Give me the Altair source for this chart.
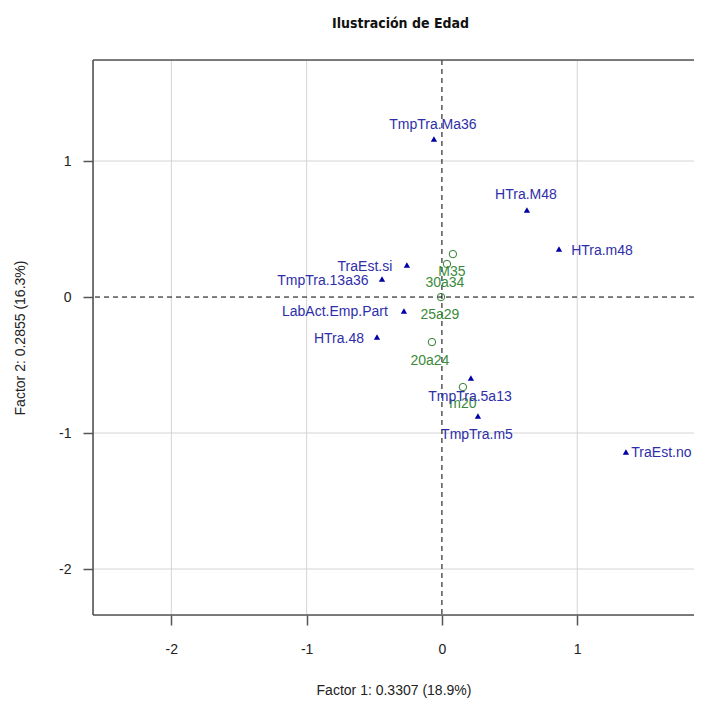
import altair as alt
import pandas as pd

# Category points (Factor 1, Factor 2)
var_names = ["TmpTra.Ma36", "HTra.M48", "HTra.m48", "TraEst.no", "TraEst.si",
             "TmpTra.13a36", "LabAct.Emp.Part", "HTra.48", "TmpTra.5a13", "TmpTra.m5"]
var_x = [-0.059, 0.628, 0.865, 1.360, -0.259, -0.443, -0.281, -0.480, 0.214, 0.266]
var_y = [1.162, 0.640, 0.353, -1.140, 0.235, 0.132, -0.103, -0.294, -0.596, -0.875]
# label anchor positions (repelled labels)
var_lx = [-0.067, 0.621, 1.183, 1.622, -0.569, -0.880, -0.791, -0.761, 0.207, 0.259]
var_ly = [1.265, 0.750, 0.338, -1.147, 0.221, 0.118, -0.110, -0.309, -0.735, -1.015]

age_names = ["M35", "30a34", "25a29", "20a24", "m20"]
age_x = [0.081, 0.037, -0.007, -0.074, 0.155]
age_y = [0.316, 0.243, 0.000, -0.331, -0.662]
age_lx = [0.074, 0.022, -0.015, -0.089, 0.155]
age_ly = [0.184, 0.103, -0.132, -0.471, -0.787]

x_ticks = [-2, -1, 0, 1]
y_ticks = [1, 0, -1, -2]
x_grid = [-2, -1, 1]
y_grid = [1, -1, -2]

X_DOMAIN = [-2.579, 1.863]
Y_DOMAIN = [-2.338, 1.743]

W, H = 601, 555
FONT = "Liberation Sans"

vars_df = pd.DataFrame({"name": var_names, "x": var_x, "y": var_y, "lx": var_lx, "ly": var_ly})
age_df = pd.DataFrame({"name": age_names, "x": age_x, "y": age_y, "lx": age_lx, "ly": age_ly})

xs = alt.Scale(domain=X_DOMAIN, nice=False, zero=False)
ys = alt.Scale(domain=Y_DOMAIN, nice=False, zero=False)

x_axis = alt.Axis(values=x_ticks, grid=False, domain=False, tickSize=10, tickColor="#555",
                  tickWidth=1.5, labelFontSize=14, labelFont=FONT, labelColor="#222",
                  labelPadding=17, labelExpr="'' + datum.value",
                  title="Factor 1: 0.3307 (18.9%)", titleFont=FONT,
                  titleFontSize=14, titleFontWeight="normal", titleColor="#222",
                  titlePadding=27)
y_axis = alt.Axis(values=y_ticks, grid=False, domain=False, tickSize=10, tickColor="#555",
                  tickWidth=1.5, labelFontSize=14, labelFont=FONT, labelColor="#222",
                  labelPadding=12, labelExpr="'' + datum.value",
                  title="Factor 2: 0.2855 (16.3%)", titleFont=FONT,
                  titleFontSize=14, titleFontWeight="normal", titleColor="#222",
                  titlePadding=31)

base_axes = alt.Chart(pd.DataFrame({"x": [0.0], "y": [0.0]})).mark_point(opacity=0).encode(
    x=alt.X("x:Q", scale=xs, axis=x_axis),
    y=alt.Y("y:Q", scale=ys, axis=y_axis),
)

vgrid = alt.Chart(pd.DataFrame({"g": x_grid})).mark_rule(color="#d4d4d4", strokeWidth=1).encode(
    x=alt.X("g:Q", scale=xs))
hgrid = alt.Chart(pd.DataFrame({"g": y_grid})).mark_rule(color="#d4d4d4", strokeWidth=1).encode(
    y=alt.Y("g:Q", scale=ys))

vzero = alt.Chart(pd.DataFrame({"g": [0]})).mark_rule(color="black", strokeWidth=1,
                                                       strokeDash=[5, 4]).encode(
    x=alt.X("g:Q", scale=xs))
hzero = alt.Chart(pd.DataFrame({"g": [0]})).mark_rule(color="black", strokeWidth=1,
                                                       strokeDash=[5, 4]).encode(
    y=alt.Y("g:Q", scale=ys))

# plot frame: left, top, bottom (right side runs past the picture in the reference)
frame_style = dict(color="#555", strokeWidth=1.6)
frame_left = alt.Chart().mark_rule(**frame_style).encode(
    x=alt.value(0), y=alt.value(0), y2=alt.value(H))
frame_top = alt.Chart().mark_rule(**frame_style).encode(
    x=alt.value(0), x2=alt.value(W), y=alt.value(0))
frame_bottom = alt.Chart().mark_rule(**frame_style).encode(
    x=alt.value(0), x2=alt.value(W), y=alt.value(H))

tri = alt.Chart(vars_df).mark_point(shape="triangle-up", filled=True, color="#0000A8",
                                    size=40, opacity=1, clip=True).encode(
    x=alt.X("x:Q", scale=xs), y=alt.Y("y:Q", scale=ys))
tri_lab = alt.Chart(vars_df).mark_text(font=FONT, fontSize=14, color="#2E2EAA", align="center",
                                       baseline="middle").encode(
    x=alt.X("lx:Q", scale=xs), y=alt.Y("ly:Q", scale=ys), text="name:N")

circ = alt.Chart(age_df).mark_point(shape="circle", filled=False, color="#2E7D2E",
                                    size=55, strokeWidth=1, opacity=1, clip=True).encode(
    x=alt.X("x:Q", scale=xs), y=alt.Y("y:Q", scale=ys))
circ_lab = alt.Chart(age_df).mark_text(font=FONT, fontSize=14, color="#3A8A3A", align="center",
                                       baseline="middle").encode(
    x=alt.X("lx:Q", scale=xs), y=alt.Y("ly:Q", scale=ys), text="name:N")

chart = alt.layer(base_axes, vgrid, hgrid, vzero, hzero, frame_left, frame_top, frame_bottom,
                  circ, tri, circ_lab, tri_lab).properties(
    width=W, height=H,
    title=alt.TitleParams("Ilustración de Edad",
                          font="'Liberation Sans Narrow', 'DejaVu Sans Condensed', 'Liberation Sans', sans-serif",
                          fontSize=14, fontWeight="bold", color="#111", anchor="middle",
                          offset=28, dx=7),
    padding={"left": 85, "top": 52, "right": 0, "bottom": 84},
    autosize=alt.AutoSizeParams(type="none"),
).configure_view(stroke=None).configure(background="white")

chart.save("out.html", embed_options={"renderer": "svg", "actions": False})
